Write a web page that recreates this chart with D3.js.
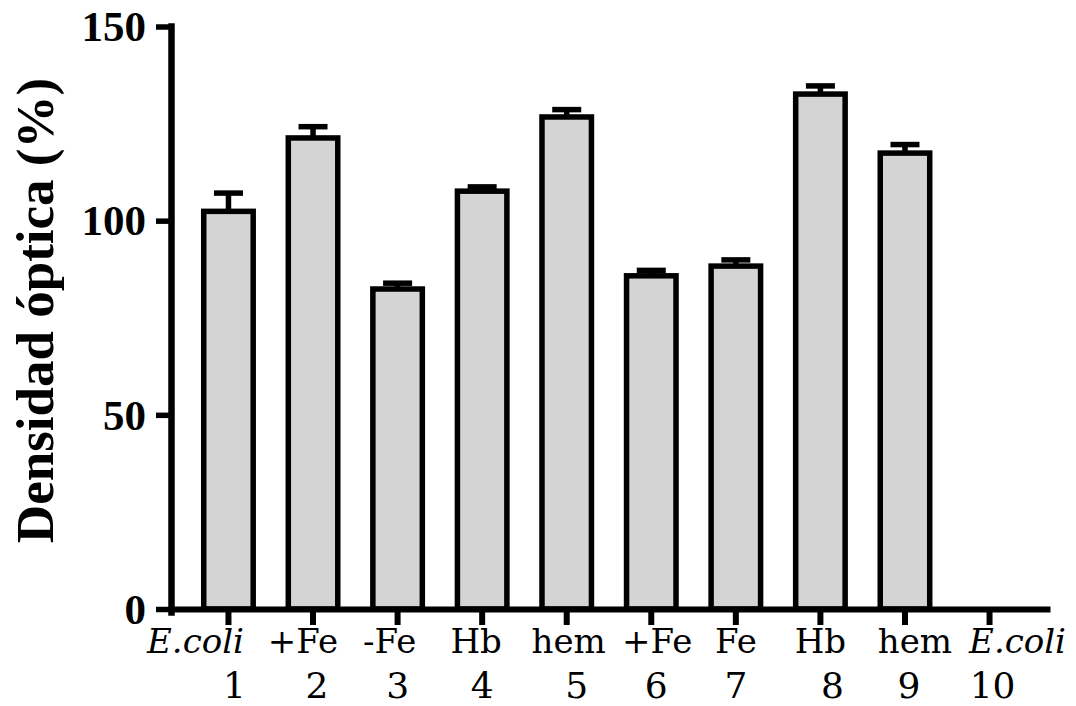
<!DOCTYPE html>
<html>
<head>
<meta charset="utf-8">
<script src="https://cdn.jsdelivr.net/npm/d3@7"></script>
<style>
  html, body { margin: 0; padding: 0; background: #fff; }
  svg { display: block; }
</style>
</head>
<body>
<svg id="chart" width="1076" height="706"></svg>
<script>
// Lanes (numbered samples) and the condition shown above each number
const lanes = ["1", "2", "3", "4", "5", "6", "7", "8", "9", "10"];
const conditions = ["E.coli", "+Fe", "-Fe", "Hb", "hem", "+Fe", "Fe", "Hb", "hem", "E.coli"];
const italicConditions = ["E.coli"];

// Optical density (%) per lane and its error (upper whisker)
const density = [102.4, 121.3, 82.4, 107.6, 126.7, 85.8, 88.3, 132.6, 117.4, 0];
const densityErr = [4.7, 2.9, 1.5, 1.1, 1.9, 1.4, 1.6, 2.1, 2.2, 0];

const yTicks = [0, 50, 100, 150];

// Small horizontal nudges for the two label rows (typeset as in the figure)
const wordShift = [-33, -10, -8, -6, 2, 6, 0, 0, 10, 28];
const numberShift = [6, 4, 0, 0, 10, 5, 0, 12, 4, 3];

const svg = d3.select("#chart");

const x = d3.scaleBand()
  .domain(lanes)
  .range([168, 1050])
  .paddingInner(0.415)
  .paddingOuter(0.4225);

const y = d3.scaleLinear()
  .domain([0, 150])
  .range([609, 26.5]);

const rows = lanes.map((lane, i) => ({
  lane, cond: conditions[i], value: density[i], err: densityErr[i], i
}));

// Error bars (drawn first so the bar fill hides the lower whisker)
const errG = svg.append("g").attr("class", "errors");
const withBars = rows.filter(d => d.value > 0);
const capW = 29;
errG.selectAll("line.stem")
  .data(withBars)
  .join("line")
  .attr("class", "stem")
  .attr("x1", d => x(d.lane) + x.bandwidth() / 2)
  .attr("x2", d => x(d.lane) + x.bandwidth() / 2)
  .attr("y1", d => y(d.value - d.err))
  .attr("y2", d => y(d.value + d.err))
  .attr("stroke", "#000")
  .attr("stroke-width", 5.5);
errG.selectAll("line.cap")
  .data(withBars)
  .join("line")
  .attr("class", "cap")
  .attr("x1", d => x(d.lane) + x.bandwidth() / 2 - capW / 2)
  .attr("x2", d => x(d.lane) + x.bandwidth() / 2 + capW / 2)
  .attr("y1", d => y(d.value + d.err))
  .attr("y2", d => y(d.value + d.err))
  .attr("stroke", "#000")
  .attr("stroke-width", 5.5);

// Bars
svg.append("g").attr("class", "bars")
  .selectAll("rect")
  .data(withBars)
  .join("rect")
  .attr("x", d => x(d.lane))
  .attr("width", x.bandwidth())
  .attr("y", d => y(d.value))
  .attr("height", d => y(0) - y(d.value))
  .attr("fill", "#d4d4d4")
  .attr("stroke", "#000")
  .attr("stroke-width", 5.5);

// Y axis
const yAxis = svg.append("g")
  .attr("transform", "translate(171,0)")
  .call(d3.axisLeft(y).tickValues(yTicks).tickSize(15).tickSizeOuter(0).tickPadding(10));
yAxis.select(".domain")
  .attr("d", `M0.5,${y(0) + 3.5}V${y(150)}`)
  .attr("stroke", "#000")
  .attr("stroke-width", 6.5)
  .attr("stroke-linecap", "square");
yAxis.selectAll(".tick line").attr("stroke", "#000").attr("stroke-width", 5.5);
yAxis.selectAll(".tick text")
  .attr("fill", "#000")
  .attr("font-family", "'Liberation Serif', serif")
  .attr("font-weight", "bold")
  .attr("font-size", 43)
  .attr("dy", "0.33em");

// X axis
const xAxis = svg.append("g")
  .attr("transform", `translate(0,${y(0)})`)
  .call(d3.axisBottom(x).tickSize(16).tickSizeOuter(0).tickFormat(""));
xAxis.select(".domain").attr("stroke", "#000").attr("stroke-width", 6);
xAxis.selectAll(".tick line").attr("stroke", "#000").attr("stroke-width", 6);

// Two-row category labels: condition above, lane number below
const labelG = svg.append("g").attr("class", "xlabels")
  .attr("font-family", "'DejaVu Serif', serif")
  .attr("fill", "#000");
labelG.selectAll("text.cond")
  .data(rows)
  .join("text")
  .attr("class", "cond")
  .attr("x", d => x(d.lane) + x.bandwidth() / 2 + wordShift[d.i])
  .attr("y", 653)
  .attr("text-anchor", "middle")
  .attr("font-size", 34)
  .attr("font-style", d => italicConditions.includes(d.cond) ? "italic" : "normal")
  .text(d => d.cond);
labelG.selectAll("text.num")
  .data(rows)
  .join("text")
  .attr("class", "num")
  .attr("x", d => x(d.lane) + x.bandwidth() / 2 + numberShift[d.i])
  .attr("y", 698)
  .attr("text-anchor", "middle")
  .attr("font-size", 36)
  .text(d => d.lane);

// Y axis title
svg.append("text")
  .attr("transform", "translate(53,310.5) rotate(-90)")
  .attr("text-anchor", "middle")
  .attr("font-family", "'Liberation Serif', serif")
  .attr("font-weight", "bold")
  .attr("font-size", 53)
  .attr("fill", "#000")
  .text("Densidad óptica (%)");
</script>
</body>
</html>
